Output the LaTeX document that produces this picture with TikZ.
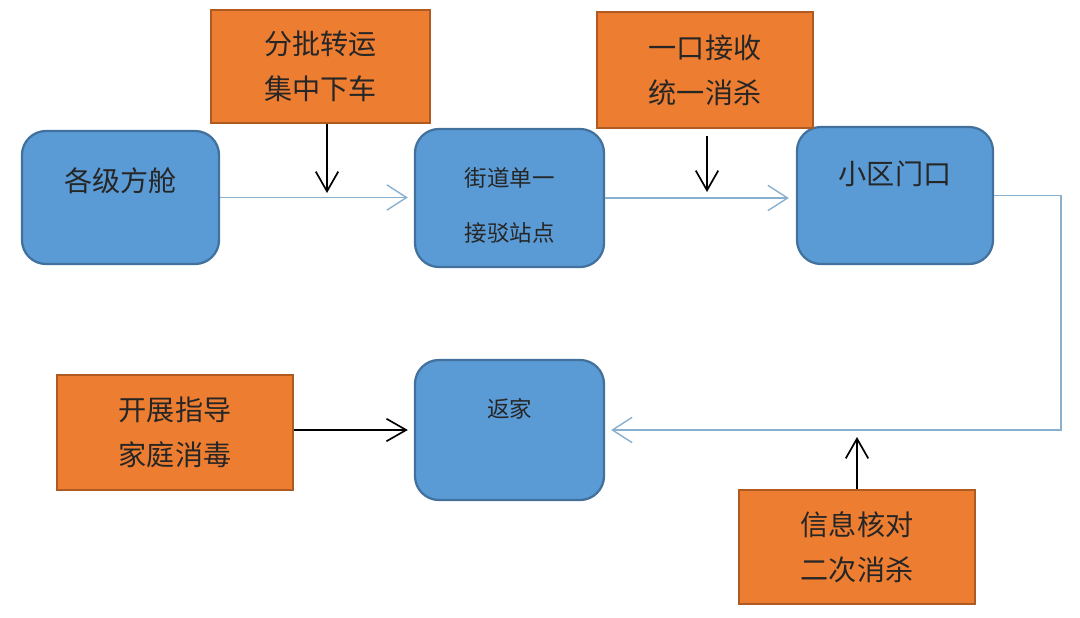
\documentclass[tikz,border=0pt]{standalone}
\usepackage{fontspec}
\setmainfont{Noto Sans CJK SC}
\usetikzlibrary{arrows.meta}
\definecolor{boxblue}{HTML}{5B9BD5}
\definecolor{boxblueline}{HTML}{41719C}
\definecolor{boxorange}{HTML}{ED7D31}
\definecolor{boxorangeline}{HTML}{AE5A21}
\definecolor{flowline}{HTML}{8AB0CF}
\begin{document}
\begin{tikzpicture}[x=0.025cm,y=-0.025cm,
  stage/.style={draw=boxblueline,line width=1.6pt,fill=boxblue,rounded corners=0.6cm,inner sep=0pt},
  task/.style={draw=boxorangeline,line width=1.4pt,fill=boxorange,inner sep=0pt,align=center,
    font=\fontsize{20}{32}\selectfont,text=black!85},
  big/.style={anchor=center,font=\fontsize{20}{24}\selectfont,text=black!85},
  small/.style={anchor=center,align=center,font=\fontsize{16}{39}\selectfont,text=black!85},
  flow/.style={flowline,line width=1pt,-{Straight Barb[length=14pt,width=18pt]}},
  hint/.style={black,line width=1.2pt,-{Straight Barb[length=14pt,width=16pt]}}]
\useasboundingbox (0,0) rectangle (1080,618);
\node[stage,minimum width=4.925cm,minimum height=3.325cm,
  label={[big,yshift=-1.275cm]north:各级方舱}] (A) at (120.5,197.5) {};
\node[stage,minimum width=4.725cm,minimum height=3.45cm,
  label={[small,yshift=-1.93cm]north:街道单一\\接驳站点}] (B) at (509.5,198) {};
\node[stage,minimum width=4.9cm,minimum height=3.425cm,
  label={[big,yshift=-1.2cm]north:小区门口}] (C) at (895,195.5) {};
\node[stage,minimum width=4.725cm,minimum height=3.5cm,
  label={[small,yshift=-1.25cm]north:返家}] (D) at (509.5,430) {};
\node[task,minimum width=5.475cm,minimum height=2.825cm] (O1) at (320.5,66.5) {分批转运\\集中下车};
\node[task,minimum width=5.4cm,minimum height=2.9cm] (O2) at (705,70) {一口接收\\统一消杀};
\node[task,minimum width=5.9cm,minimum height=2.875cm] (O3) at (175,432.5) {开展指导\\家庭消毒};
\node[task,minimum width=5.9cm,minimum height=2.85cm] (O4) at (857,547) {信息核对\\二次消杀};
\coordinate (c1) at (1061,195.5);
\coordinate (c2) at (1061,430);
\coordinate (m1) at (327,193);
\coordinate (m2) at (707,192);
\draw[flow,shorten >=0.15cm] (A.east) -- (A.east -| B.west);
\draw[flow,shorten >=0.175cm] (B.east) -- (B.east -| C.west);
\draw[flow,shorten >=0.15cm] (C.east) -- (c1) -- (c2) -- (D.east);
\draw[hint] (m1 |- O1.south) -- (m1);
\draw[hint,shorten <=0.175cm] (m2 |- O2.south) -- (m2);
\draw[hint,shorten >=0.15cm] (O3.east |- D.east) -- (D.west);
\draw[hint,shorten >=0.175cm] (O4.north) -- (O4.north |- c2);
\end{tikzpicture}
\end{document}
